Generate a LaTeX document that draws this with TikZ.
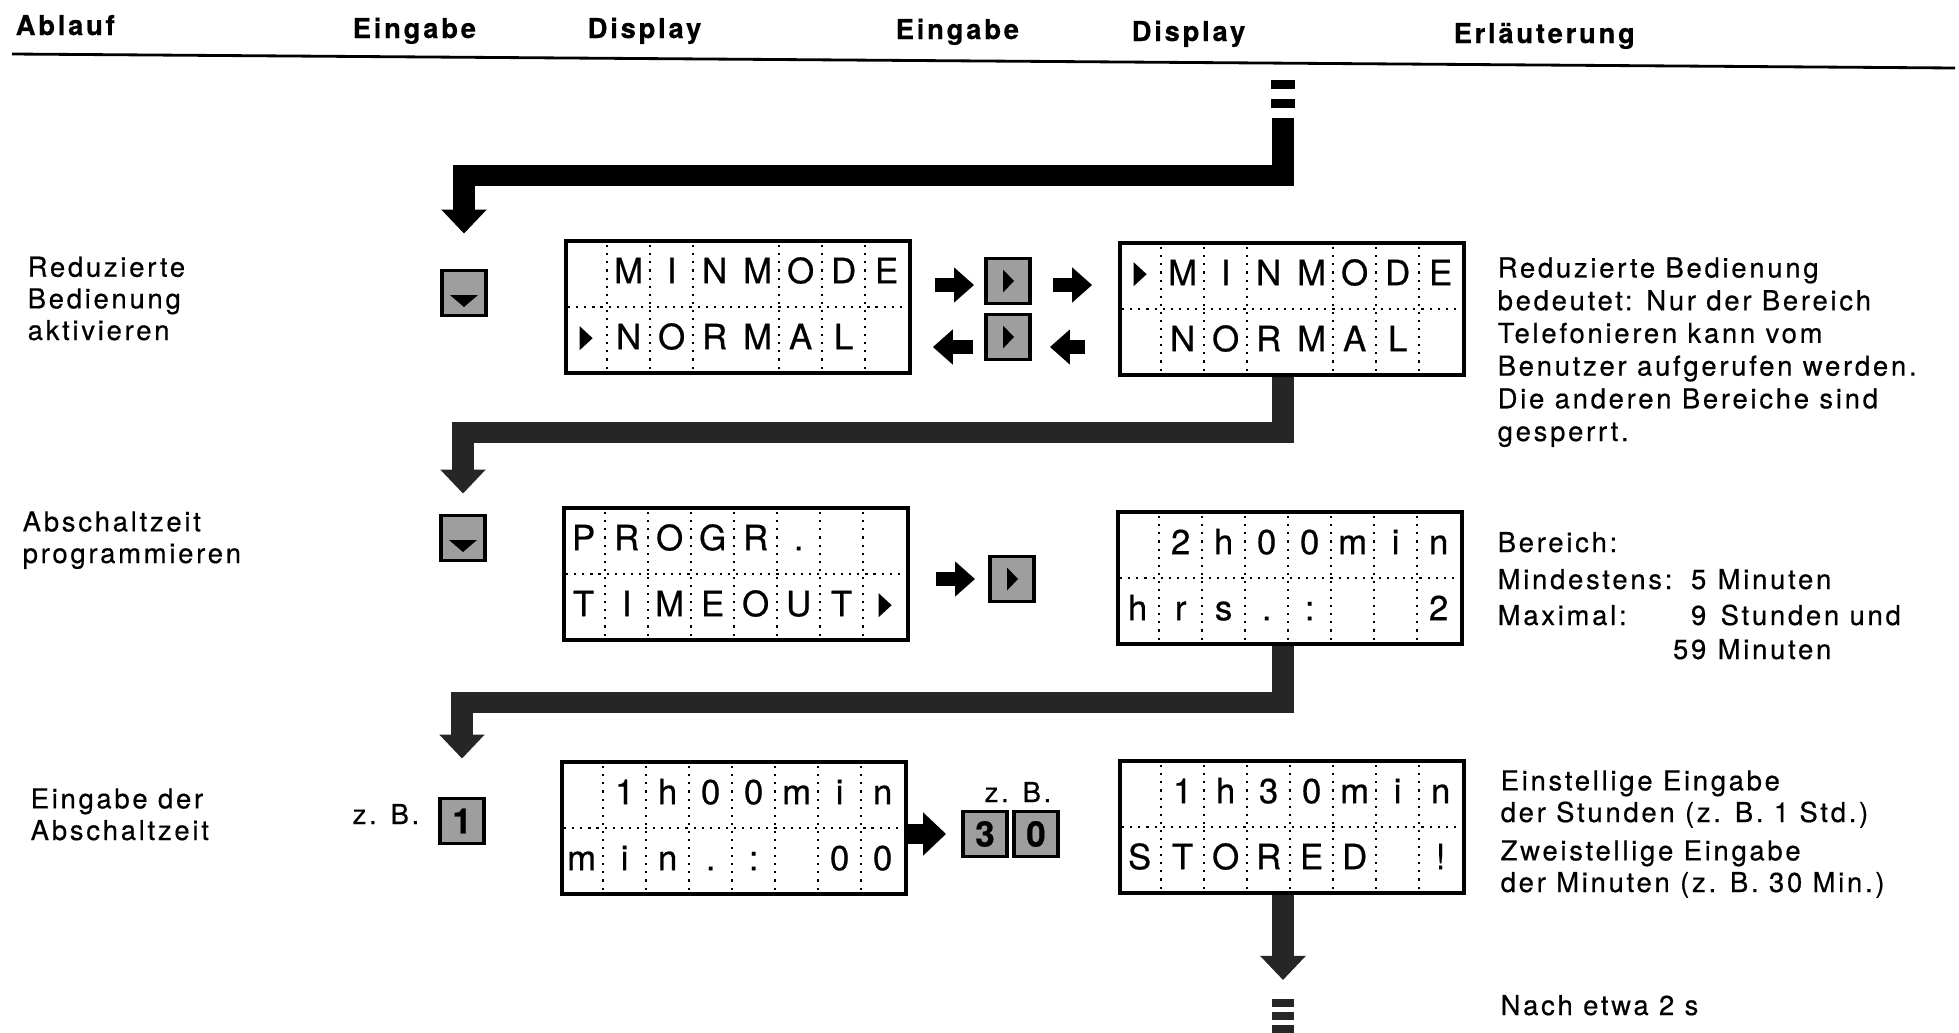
\documentclass[tikz,border=0pt]{standalone}
\usepackage{fontspec}
\setmainfont{TeX Gyre Heros}[LetterSpace=10,FakeBold=0.5]
\newfontfamily\lcdfont{TeX Gyre Heros}[FakeBold=0.5]
\usetikzlibrary{arrows.meta,calc}
\definecolor{keygray}{gray}{0.62}
\definecolor{bargray}{gray}{0.15}

\tikzset{
  lcdmark/.pic={\fill (-6,-12) -- (7,0) -- (-6,12) -- cycle;},
  downmark/.pic={\fill (-14,2) -- (14,2) -- (0,14) -- cycle;},
  rightmark/.pic={\fill (-5,-11.5) -- (6,0) -- (-5,11.5) -- cycle;},
}

\begin{document}
\begin{tikzpicture}[x=0.01cm, y=-0.01cm,
  txt/.style={inner sep=0pt, anchor=base west, align=left, font=\fontsize{7.8}{9}\selectfont},
  colhead/.style={txt, font=\fontsize{7.8}{9}\selectfont\bfseries},
  lcd/.style={draw, line width=1pt, minimum width=3.44cm, minimum height=1.32cm, inner sep=0pt},
  lcdgrid/.style={line width=0.6pt, dash pattern=on 0.6pt off 1.7pt},
  lcdchar/.style={inner sep=0pt, anchor=base, font=\lcdfont\fontsize{9.9}{10}\selectfont},
  keycap/.style={draw, line width=1.1pt, fill=keygray, minimum width=0.44cm, minimum height=0.45cm, inner sep=0pt, font=\lcdfont\fontsize{10}{10}\selectfont\bfseries},
  flow/.style={draw=bargray, line width=0.21cm, line join=miter, -{Triangle[length=0.24cm,width=0.44cm]}},
  push/.style={line width=0.14cm, -{Triangle[length=0.2cm,width=0.34cm]}},
]
  % page, 1 unit = 1 px of the scan, y running downwards
  \fill[white] (0,0) rectangle (1959,1033);
  \useasboundingbox (0,0) rectangle (1959,1033);

  % --- column heads
  \node[colhead] (hStep)  at (15,35)   {Ablauf};
  \node[colhead] (hIn1)   at (352,38)  {Eingabe};
  \node[colhead] (hDisp1) at (587,38)  {Display};
  \node[colhead] (hIn2)   at (895,39)  {Eingabe};
  \node[colhead] (hDisp2) at (1131,41) {Display};
  \node[colhead] (hNote)  at (1453,43) {Erläuterung};
  \draw[line width=0.8pt] (12,54) -- (1955,68);

  % --- step labels (left); base = last line
  \node[txt] (labMode)  at (27,340) {Reduzierte\\Bedienung\\aktivieren};
  \node[txt] (labProg)  at (22,563) {Abschaltzeit\\programmieren};
  \node[txt] (labEntry) at (30,840) {Eingabe der\\Abschaltzeit};

  % --- displays: 8 cells per row, 43 px wide
  \node[lcd] (dMenu1)  at (738,307)  {};
  \node[lcd] (dMenu2)  at (1292,309) {};
  \node[lcd] (dProg)   at (736,574)  {};
  \node[lcd] (dTime)   at (1290,578) {};
  \node[lcd] (dEntry)  at (734,828)  {};
  \node[lcd] (dStored) at (1292,827) {};

  \foreach \d/\gaps in {dMenu1/{1,2,3,5,6,7}, dMenu2/{1,2,3,5,6,7}, dProg/{1,...,7},
                        dTime/{1,...,7}, dEntry/{1,...,7}, dStored/{1,...,7}} {
    \draw[lcdgrid] ($(\d.west)+(4,0)$) -- ($(\d.east)+(-4,0)$);
    \foreach \k in \gaps
      \draw[lcdgrid] ($(\d.north west)+(43*\k,6)$) -- ($(\d.south west)+(43*\k,-6)$);
  }

  % cell contents: - = empty, > = cursor
  \foreach \d/\r/\cells in {
      dMenu1/1/{-,M,I,N,M,O,D,E},  dMenu1/2/{>,N,O,R,M,A,L,-},
      dMenu2/1/{>,M,I,N,M,O,D,E},  dMenu2/2/{-,N,O,R,M,A,L,-},
      dProg/1/{P,R,O,G,R,.,-,-},   dProg/2/{T,I,M,E,O,U,T,>},
      dTime/1/{-,2,h,0,0,m,i,n},   dTime/2/{h,r,s,.,:,-,-,2},
      dEntry/1/{-,1,h,0,0,m,i,n},  dEntry/2/{m,i,n,.,:,-,0,0},
      dStored/1/{-,1,h,3,0,m,i,n}, dStored/2/{S,T,O,R,E,D,-,!}}
    \foreach \c [count=\i] in \cells {
      \if\c>\pic at ($(\d.north west)+(43*\i-21.5,66*\r-33)$) {lcdmark};
      \else\if\c-\else
        \node[lcdchar] at ($(\d.north west)+(43*\i-21.5,66*\r-22)$) {\c};
      \fi\fi
    }

  % --- keys
  \node[keycap] (kDown1)  at (464,293)  {};
  \node[keycap] (kDown2)  at (463,538)  {};
  \node[keycap] (kOne)    at (462,821)  {1};
  \node[keycap] (kRight1) at (1008,281) {};
  \node[keycap] (kRight2) at (1008,337) {};
  \node[keycap] (kRight3) at (1012,579) {};
  \node[keycap] (kThree)  at (985,834)  {3};
  \node[keycap] (kZero)   at (1036,834) {0};
  \pic at (kDown1) {downmark};
  \pic at (kDown2) {downmark};
  \foreach \k in {kRight1,kRight2,kRight3} \pic at (\k) {rightmark};

  \node[txt] (zbOne)   at (352,824) {z. B.};
  \node[txt] (zbThree) at (984,802) {z. B.};

  % --- key presses between displays
  \draw[push, shorten <=0.23cm, shorten >=0.10cm] ([yshift=-0.04cm]dMenu1.east |- kRight1) -- ([yshift=-0.04cm]kRight1.west);
  \draw[push, shorten <=0.21cm, shorten >=0.26cm] ([yshift=-0.04cm]kRight1.east) -- ([yshift=-0.04cm]dMenu2.west |- kRight1);
  \draw[push, shorten <=0.11cm, shorten >=0.21cm] ([yshift=-0.1cm]kRight2.west) -- ([yshift=-0.1cm]dMenu1.east |- kRight2);
  \draw[push, shorten <=0.33cm, shorten >=0.18cm] ([yshift=-0.1cm]dMenu2.west |- kRight2) -- ([yshift=-0.1cm]kRight2.east);
  \draw[push, shorten <=0.26cm, shorten >=0.13cm] (dProg.east |- kRight3) -- (kRight3.west);
  \draw[line width=0.2cm, -{Triangle[length=0.23cm,width=0.42cm]}, shorten >=0.15cm] (dEntry.east |- kThree) -- (kThree.west);

  % --- flow from step to step
  \coordinate (cTop) at (1283,118);
  \coordinate (cEnd) at (1283,980);
  \draw[line width=0.23cm, dash pattern=on 0.09cm off 0.1cm] (1283,80) -- (cTop);
  \draw[flow, draw=black, shorten >=0.35cm] (cTop) |- ([yshift=0.93cm]kDown1.north) -- (kDown1.north);
  \draw[flow, shorten >=0.2cm] ([xshift=-0.09cm]dMenu2.south) |- ([yshift=0.81cm]kDown2.north) -- (kDown2.north);
  \draw[flow, shorten >=0.38cm] ([xshift=-0.07cm]dTime.south) |- ([yshift=0.94cm]kOne.north) -- (kOne.north);
  \draw[flow] (dStored.south -| cEnd) -- (cEnd);
  \draw[line width=0.22cm, bargray, dash pattern=on 0.08cm off 0.05cm] (1283,999) -- (1283,1033);

  % --- explanations (right); base = last line
  \node[txt, font=\fontsize{7.8}{9.3}\selectfont] (noteMode) at (1497,441) {Reduzierte Bedienung\\bedeutet: Nur der Bereich\\Telefonieren kann vom\\Benutzer aufgerufen werden.\\Die anderen Bereiche sind\\gesperrt.};
  \node[txt] (noteRange) at (1497,552) {Bereich:};
  \node[txt] (noteMin)   at (1497,589) {Mindestens:};
  \node[txt, anchor=base east] (noteMinV) at (1707,589) {5};
  \node[txt] (noteMinU)  at (1717,589) {Minuten};
  \node[txt] (noteMax)   at (1497,625) {Maximal:};
  \node[txt, anchor=base east] (noteMaxV) at (1707,625) {9};
  \node[txt] (noteMaxU)  at (1720,625) {Stunden und};
  \node[txt, anchor=base east] (noteMaxV2) at (1707,659) {59};
  \node[txt] (noteMaxU2) at (1717,659) {Minuten};
  \node[txt] (noteHour) at (1500,822) {Einstellige Eingabe\\der Stunden (z. B. 1 Std.)};
  \node[txt] (noteMins) at (1500,892) {Zweistellige Eingabe\\der Minuten (z. B. 30 Min.)};
  \node[txt] (noteWait) at (1500,1015) {Nach etwa 2 s};
\end{tikzpicture}
\end{document}
